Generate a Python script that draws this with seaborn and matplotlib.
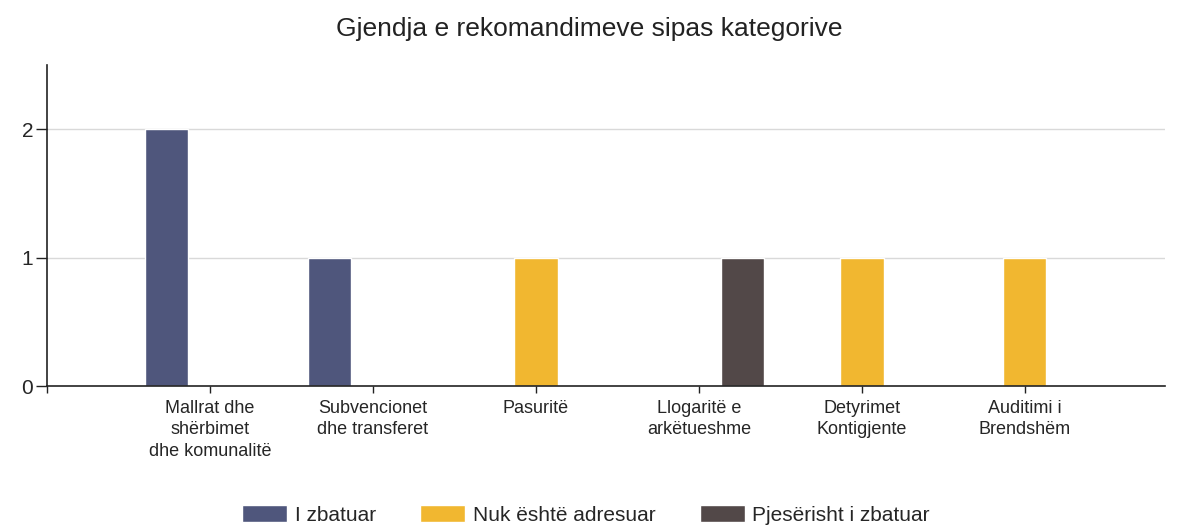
#!/usr/bin/env python3

from matplotlib import pyplot as plt
import pandas as pd
import seaborn as sns

categories = [
    "Mallrat dhe\nshërbimet\ndhe komunalitë",
    "Subvencionet\ndhe transferet",
    "Pasuritë",
    "Llogaritë e\narkëtueshme",
    "Detyrimet\nKontigjente",
    "Auditimi i\nBrendshëm",
]
series_names = ["I zbatuar", "Nuk është adresuar", "Pjesërisht i zbatuar"]
i_zbatuar = [2, 1, 0, 0, 0, 0]
nuk_adresuar = [0, 0, 1, 0, 1, 1]
pjeserisht = [0, 0, 0, 1, 0, 0]
colors = ["#4F567C", "#F1B730", "#524848"]


def main():
    df = pd.DataFrame({
        "kategoria": categories * 3,
        "statusi": [s for s in series_names for _ in categories],
        "vlera": i_zbatuar + nuk_adresuar + pjeserisht,
    })

    sns.set_theme(style="white")
    plt.rcParams["font.family"] = ["Liberation Sans", "DejaVu Sans"]

    fig, ax = plt.subplots(figsize=(11.79, 5.27), dpi=100)
    fig.subplots_adjust(left=0.04, right=0.988, top=0.877, bottom=0.2675)

    sns.barplot(
        data=df, x="kategoria", y="vlera", hue="statusi",
        order=categories, hue_order=series_names, palette=colors,
        width=0.8, saturation=1, ax=ax, legend=True,
    )

    ax.set_xlim(-1, 5.86)
    ax.set_ylim(0, 2.5)
    ax.set_yticks([0, 1, 2])
    ax.set_xticks(range(-1, len(categories)))
    ax.set_xticklabels([""] + categories, fontsize=13, linespacing=1.35)
    ax.tick_params(axis="y", labelsize=15, length=8, width=1, color="#222222",
                   direction="out", left=True, pad=2)
    ax.tick_params(axis="x", length=5, width=1, color="#222222",
                   direction="out", bottom=True, pad=5)
    ax.set_xlabel("")
    ax.set_ylabel("")

    for y in [1, 2]:
        ax.axhline(y, color="#D9D9D9", lw=1, zorder=0)

    sns.despine(ax=ax)
    for side in ["left", "bottom"]:
        ax.spines[side].set_color("#222222")
        ax.spines[side].set_linewidth(1.2)

    handles, labels = ax.get_legend_handles_labels()
    ax.get_legend().remove()
    fig.legend(
        handles, labels, loc="center", bbox_to_anchor=(0.497, 0.023),
        ncol=3, frameon=False, fontsize=15, handlelength=2.15,
        handleheight=0.85, handletextpad=0.35, columnspacing=2.15,
    )

    fig.suptitle("Gjendja e rekomandimeve sipas kategorive", fontsize=19,
                 y=0.945, va="center", color="#222222")

    plt.savefig("out.png", dpi=100)


if __name__ == "__main__":
    main()
